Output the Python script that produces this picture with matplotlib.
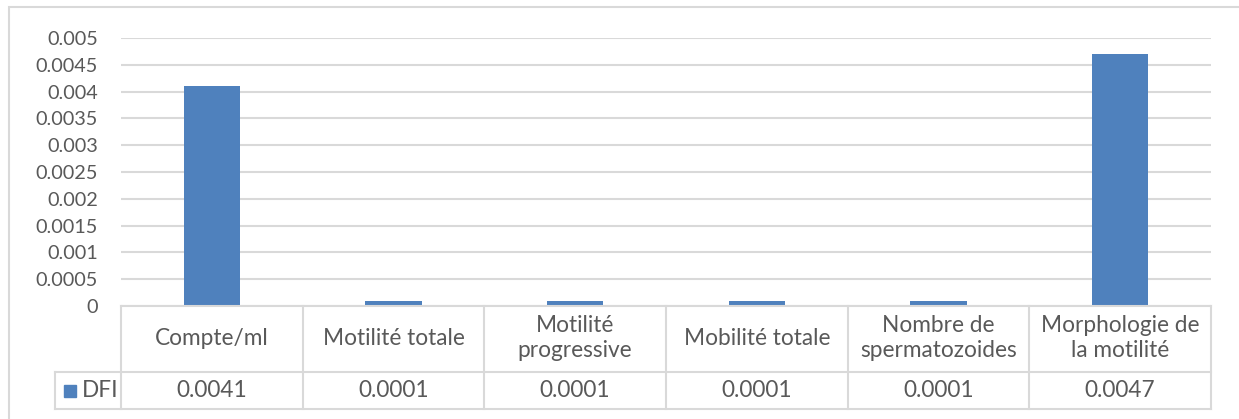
import matplotlib.pyplot as plt
from matplotlib.patches import Rectangle
from matplotlib.lines import Line2D

categories = ["Compte/ml", "Motilité totale", "Motilité\nprogressive",
              "Mobilité totale", "Nombre de\nspermatozoides", "Morphologie de\nla motilité"]
dfi = [0.0041, 0.0001, 0.0001, 0.0001, 0.0001, 0.0047]
dfi_labels = ["0.0041", "0.0001", "0.0001", "0.0001", "0.0001", "0.0047"]
yticks = [0, 0.0005, 0.001, 0.0015, 0.002, 0.0025, 0.003, 0.0035, 0.004, 0.0045, 0.005]
ytick_labels = ["0", "0.0005", "0.001", "0.0015", "0.002", "0.0025", "0.003",
                "0.0035", "0.004", "0.0045", "0.005"]

W, H = 1239, 419
GRID = "#d9d9d9"
TXT = "#595959"
BLUE = "#4f81bd"
FS_TAB = 16.3

plt.rcParams['font.family'] = ['Lato', 'DejaVu Sans']

fig = plt.figure(figsize=(W / 100, H / 100), dpi=100)

# outer chart frame
fig.patches.append(Rectangle((9 / W, -0.1), 1.2, (H - 7) / H + 0.1, transform=fig.transFigure,
                             fill=False, edgecolor=GRID, lw=1.5))

x0, x1 = 121, 1211
ytop, yzero, ymid, ybot = 38, 306, 372, 409

ax = fig.add_axes([x0 / W, 1 - yzero / H, (x1 - x0) / W, (yzero - ytop) / H])
xs = range(len(categories))
ax.bar(xs, dfi, width=0.31, color=BLUE, zorder=3)
ax.set_xlim(-0.5, len(categories) - 0.5)
ax.set_ylim(0, 0.005)
ax.set_yticks(yticks)
ax.set_yticklabels(ytick_labels)
ax.set_xticks([])
ax.tick_params(axis='y', length=0, pad=16.5, labelsize=14.3, labelcolor=TXT)
ax.grid(axis='y', color=GRID, lw=1.5, zorder=0)
for s in ax.spines.values():
    s.set_visible(False)

# data table below the plot
tab = fig.add_axes([x0 / W, 1 - ybot / H, (x1 - x0) / W, (ybot - yzero) / H])
tab.set_xlim(-0.5, len(categories) - 0.5)
tab.set_ylim(0, ybot - yzero)
tab.axis('off')
row = ybot - ymid
top = ybot - yzero
col_px = (x1 - x0) / len(categories)
leg_left = -0.5 - (x0 - 55) / col_px
kw = dict(color=GRID, lw=1.5, clip_on=False)
tab.add_line(Line2D([-0.5, 5.5], [top, top], **kw))
tab.add_line(Line2D([leg_left, 5.5], [row, row], **kw))
tab.add_line(Line2D([leg_left, 5.5], [0, 0], **kw))
tab.add_line(Line2D([leg_left, leg_left], [0, row], **kw))
for i in range(len(categories) + 1):
    tab.add_line(Line2D([i - 0.5, i - 0.5], [0, top], **kw))
for i, (c, v) in enumerate(zip(categories, dfi_labels)):
    tab.text(i, (top + row) / 2 + 1, c, ha='center', va='center', fontsize=FS_TAB,
             color=TXT, linespacing=1.2)
    tab.text(i, row / 2, v, ha='center', va='center', fontsize=FS_TAB, color=TXT)
tab.add_patch(Rectangle((leg_left + 9 / col_px, row / 2 - 6), 12 / col_px, 12,
                        color=BLUE, clip_on=False))
tab.text(leg_left + 27 / col_px, row / 2, "DFI", ha='left', va='center',
         fontsize=FS_TAB, color=TXT)

fig.savefig("out.png", dpi=100)
